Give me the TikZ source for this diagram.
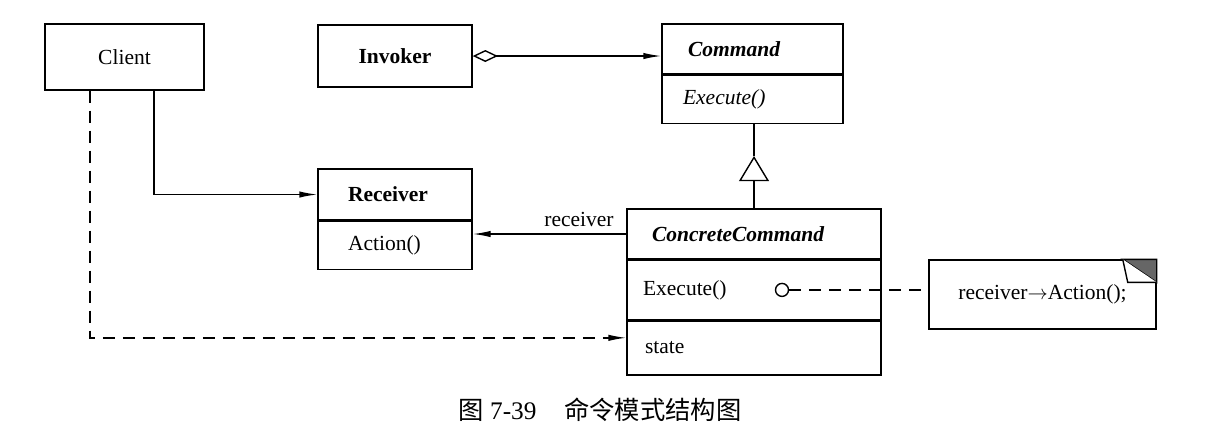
\documentclass[tikz,border=0pt]{standalone}
\usepackage{fontspec}
\setmainfont{Liberation Serif}
\newfontfamily\cjk{Noto Sans CJK SC}
\usepackage{tikz}
\usetikzlibrary{arrows.meta,positioning}

\begin{document}
\begin{tikzpicture}[x=0.25mm,y=-0.25mm,
    font=\fontsize{15.3}{18}\selectfont,
    line width=1pt,
    caja/.style={draw,inner sep=0pt,align=center},
    parte/.style={draw,inner ysep=0pt,align=left},
    flecha/.style={-{Latex[length=4.5mm,width=1.6mm]}},
    punteada/.style={dash pattern=on 3mm off 2mm}]
            \useasboundingbox (0,0) rectangle (1217,439);

            % Clases simples
            \node[caja,minimum width=39.75mm,minimum height=16.5mm] (client) at (124.5,57) {Client};
            \node[caja,minimum width=38.5mm,minimum height=15.5mm,font=\fontsize{15.3}{18}\selectfont\bfseries] (invoker) at (395,56) {Invoker};

            % Command
            \node[parte,inner xsep=6.5mm,text width=32.25mm,minimum height=12.5mm,font=\fontsize{15.3}{18}\selectfont\bfseries\itshape] (command) at (752.5,49) {Command};
            \node[parte,inner xsep=5.25mm,text width=34.75mm,minimum height=12mm,below=0pt of command,font=\fontsize{15.3}{18}\selectfont\itshape] (cmdops) {Execute()};

            % Receiver
            \node[parte,inner xsep=7.5mm,text width=23.5mm,minimum height=12.75mm,font=\fontsize{15.3}{18}\selectfont\bfseries] (receiver) at (395,194.5) {Receiver};
            \node[parte,inner xsep=7.5mm,text width=23.5mm,minimum height=12mm,below=0pt of receiver] (rcvops) {Action()};

            % ConcreteCommand
            \node[parte,inner xsep=6.25mm,text width=51mm,minimum height=12.5mm,font=\fontsize{15.3}{18}\selectfont\bfseries\itshape] (concrete) at (754,234) {ConcreteCommand};
            \node[parte,inner xsep=4mm,text width=55.5mm,minimum height=14.75mm,below=0pt of concrete] (ccexec) {Execute()};
            \node[parte,inner xsep=4.5mm,text width=54.5mm,minimum height=13.5mm,below=0pt of ccexec] (ccstate) {state};

            % Nota
            \node[caja,minimum width=56.75mm,minimum height=17.25mm] (note) at (1042.5,294.5) {receiver$\rightarrow$Action();};
            \filldraw[fill=black!60] ([shift={(-34,0)}]note.north east) -- (note.north east) -- ([shift={(0,23)}]note.north east) -- cycle;
            \filldraw[fill=white] ([shift={(-34,0)}]note.north east) -- ([shift={(-29,23)}]note.north east) -- ([shift={(0,23)}]note.north east);

            % Conexiones
            \draw[{Diamond[open,length=6.3mm,width=3mm]}-{Latex[length=4.5mm,width=1.6mm]}] (invoker.east) -- (invoker.east -| command.west);
            \draw[flecha] (client.south -| 154,0) |- (receiver.west);
            \draw[flecha] (concrete.west) -- (concrete.west -| receiver.east)
                node[pos=0,anchor=south east,inner sep=0pt,xshift=-3mm,yshift=1.75mm] (etiqueta) {receiver};
            \coordinate (gen) at (concrete.north |- 0,156);
            \draw[-{Triangle[open,length=6.3mm,width=7.5mm]}] (concrete.north) -- (gen);
            \draw (gen) -- (gen |- cmdops.south);
            \node[circle,draw,minimum size=3.25mm,inner sep=0pt] (punto) at (782,0 |- ccexec) {};
            \draw[punteada] (punto) -- (punto -| note.west);
            \draw[punteada,flecha] (client.south -| 90,0) |- ([yshift=2.5mm]ccstate.west);

            % Titulo
            \node (titulo) at (600,410) {\fontsize{18}{20}\selectfont{\cjk 图} 7-39\hspace{1.1em}{\cjk 命令模式结构图}};
        \end{tikzpicture}
\end{document}
